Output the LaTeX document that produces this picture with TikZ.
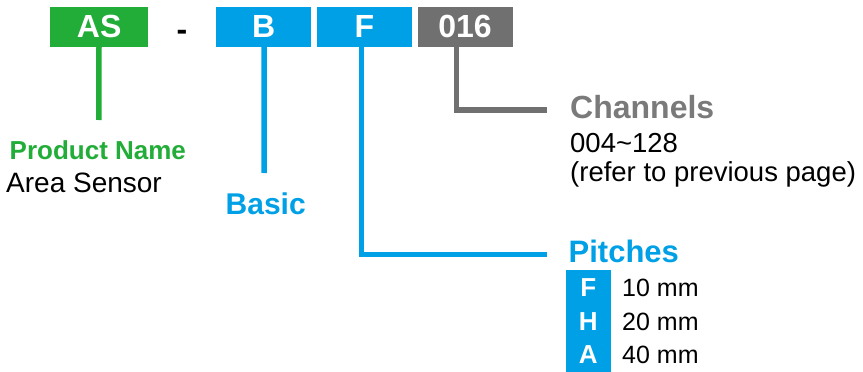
\documentclass[tikz,border=0pt]{standalone}
\usepackage{fontspec}
\setmainfont{Liberation Sans}
\definecolor{pgreen}{RGB}{34,172,56}
\definecolor{pblue}{RGB}{0,160,230}
\definecolor{pgrey}{RGB}{112,112,112}
\definecolor{tgrey}{RGB}{122,122,122}
\newcommand{\fsz}[1]{\fontsize{#1}{#1}\selectfont}
\begin{document}
\begin{tikzpicture}[x=1pt,y=-1pt,
  codebox/.style={fill=#1, text=white, font=\fsz{32}\bfseries, minimum width=95pt,
    minimum height=40pt, inner sep=0pt, anchor=north west},
  lbl/.style={anchor=base west, inner sep=0pt},
  conn/.style={draw=#1, line width=5.5pt},
  pitchletter/.style={anchor=base, inner sep=0pt, text=white, font=\fsz{26}\bfseries},
  pitchval/.style={anchor=base west, inner sep=0pt, font=\fsz{25}},
]
\useasboundingbox (0,0) rectangle (863,372);
% code boxes
\node[codebox=pgreen, minimum width=98pt] (as) at (50,6.7) {AS};
\node[anchor=base, inner sep=0pt, font=\fsz{32}\bfseries] (dash) at (182,40) {-};
\node[codebox=pblue] (b) at (216,6.7) {B};
\node[codebox=pblue] (f) at (316.7,6.7) {F};
\node[codebox=pgrey] (ch) at (417.3,6.7) {016};
% labels
\node[lbl, text=pgreen, font=\fsz{26}\bfseries] (pn) at (9.5,159.5) {Product Name};
\node[lbl, font=\fsz{28}] (area) at (6,192.5) {Area Sensor};
\node[lbl, text=pblue, font=\fsz{30}\bfseries] (basic) at (225.5,214) {Basic};
\node[lbl, text=tgrey, font=\fsz{32}\bfseries] (chan) at (570,118) {Channels};
\node[lbl, font=\fsz{27.5}] (range) at (570,152.7) {004\char`\~128};
\node[lbl, font=\fsz{27.5}] (refer) at (570,181) {(refer to previous page)};
\node[lbl, text=pblue, font=\fsz{31}\bfseries] (pitch) at (568.5,262.5) {Pitches};
% pitch table
\node[fill=pblue, minimum width=45pt, minimum height=102pt, inner sep=0pt, anchor=north west] (pbox) at (565.7,270) {};
\node[pitchletter] (pf) at (588.2,296) {F};
\node[pitchletter] (ph) at (588.2,330) {H};
\node[pitchletter] (pa) at (588.2,363.5) {A};
\node[pitchval] (v10) at (622,296) {10 mm};
\node[pitchval] (v20) at (622,330) {20 mm};
\node[pitchval] (v40) at (622,363.5) {40 mm};
% connector ends
\coordinate (gend) at (98.8,120);
\coordinate (bend) at (264,173);
\coordinate (fend) at (547,254.7);
\coordinate (cend) at (546.7,110);
% connectors
\draw[conn=pgreen] ([xshift=-0.2pt]as.south) -- (gend);
\draw[conn=pblue] ([xshift=0.5pt]b.south) -- (bend);
\draw[conn=pblue] ([xshift=-2.7pt]f.south) |- (fend);
\draw[conn=pgrey] ([xshift=-8.7pt]ch.south) |- (cend);
\end{tikzpicture}
\end{document}
